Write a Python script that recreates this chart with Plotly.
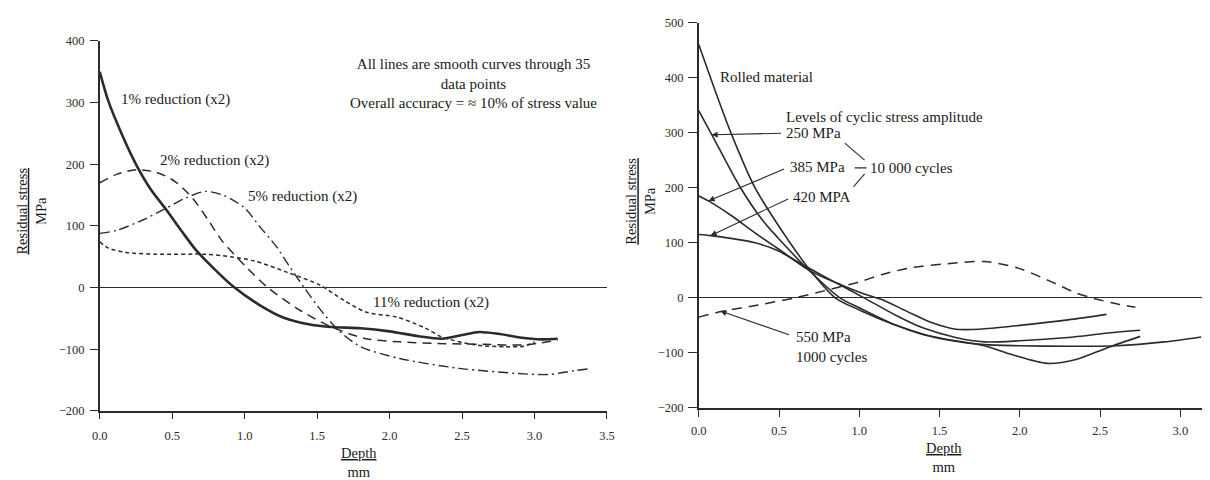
import plotly.graph_objects as go

# ---------------- left panel: cold-rolled reduction levels ----------------
depth_1pct = [0, 0.06, 0.15, 0.25, 0.35, 0.46, 0.57, 0.66, 0.8, 0.93, 1.1, 1.27,
              1.45, 1.6, 1.8, 2.0, 2.2, 2.36, 2.5, 2.62, 2.75, 2.9, 3.05, 3.16]
stress_1pct = [350, 302, 250, 200, 160, 126, 90, 62, 28, 0, -28, -49,
               -60, -64, -66, -71, -79, -83, -77, -72, -75, -81, -84, -83]

depth_2pct = [0, 0.12, 0.25, 0.39, 0.52, 0.64, 0.75, 0.84, 1.0, 1.16, 1.39, 1.61,
              1.84, 2.07, 2.38, 2.65, 2.93, 3.16]
stress_2pct = [170, 184, 191, 187, 172, 145, 109, 77, 36, 0, -38, -65,
               -83, -88, -91, -92, -93, -85]

depth_5pct = [0, 0.12, 0.3, 0.46, 0.6, 0.73, 0.86, 1.0, 1.1, 1.22, 1.31, 1.41, 1.54,
              1.65, 1.8, 2.07, 2.48, 2.93, 3.1, 3.27, 3.37]
stress_5pct = [88, 93, 110, 129, 146, 156, 149, 129, 100, 66, 34, 0, -41,
               -70, -96, -115, -131, -140, -141, -135, -132]

depth_11pct = [0, 0.06, 0.18, 0.39, 0.73, 0.9, 1.07, 1.29, 1.52, 1.68, 1.84, 2.05,
               2.24, 2.36, 2.59, 2.8, 2.93, 3.0]
stress_11pct = [74, 64, 57, 54, 54, 50, 43, 25, 4, -20, -40, -48,
                -65, -80, -93, -96, -95, -88]

# ---------------- right panel: cyclic loading ----------------
depth_rolled = [0, 0.1, 0.2, 0.35, 0.49, 0.55, 0.68, 0.85, 1.0, 1.23, 1.4, 1.6, 1.78,
                2.0, 2.3, 2.6, 2.9, 3.13]
stress_rolled = [460, 378, 300, 200, 134, 108, 55, 0, -22, -50, -66, -78, -85,
                 -87, -88, -87, -80, -71]

depth_250 = [0, 0.08, 0.26, 0.4, 0.49, 0.68, 0.88, 1.0, 1.23, 1.4, 1.6, 1.78, 1.95,
             2.17, 2.35, 2.55, 2.75]
stress_250 = [340, 297, 200, 140, 110, 52, 0, -18, -50, -67, -79, -87, -103,
              -119, -112, -90, -70]

depth_385 = [0, 0.06, 0.2, 0.35, 0.49, 0.7, 0.9, 1.05, 1.14, 1.3, 1.45, 1.6, 1.75,
             2.0, 2.3, 2.54]
stress_385 = [185, 176, 150, 118, 90, 48, 22, 5, -3, -25, -45, -57, -57,
              -50, -40, -30]

depth_420 = [0, 0.074, 0.2, 0.35, 0.49, 0.68, 0.85, 1.03, 1.23, 1.4, 1.6, 1.78,
             2.0, 2.3, 2.55, 2.75]
stress_420 = [115, 113, 108, 100, 86, 55, 28, 0, -32, -55, -72, -80,
              -78, -72, -64, -59]

depth_550 = [0, 0.14, 0.37, 0.6, 0.8, 1.0, 1.15, 1.31, 1.55, 1.78, 1.99, 2.19,
             2.35, 2.46, 2.62, 2.72]
stress_550 = [-35, -25, -13, 0, 14, 29, 43, 54, 62, 66, 54, 30,
              9, -1, -12, -17]

left_xticks = [0, 0.5, 1.0, 1.5, 2.0, 2.5, 3.0, 3.5]
left_yticks = [-200, -100, 0, 100, 200, 300, 400]
right_xticks = [0, 0.5, 1.0, 1.5, 2.0, 2.5, 3.0]
right_yticks = [-200, -100, 0, 100, 200, 300, 400, 500]

INK = "#2b2b2b"
SERIF = "Liberation Serif"

fig = go.Figure()


def curve(x, y, axis, dash="solid", width=1.5):
    xa, ya = axis
    fig.add_trace(go.Scatter(
        x=x, y=y, xaxis=xa, yaxis=ya, mode="lines", showlegend=False,
        hoverinfo="skip",
        line=dict(color=INK, width=width, dash=dash, shape="spline", smoothing=0.8),
    ))


L = ("x", "y")
R = ("x2", "y2")
curve(depth_1pct, stress_1pct, L, "solid", 2.6)
curve(depth_2pct, stress_2pct, L, "9px,6px", 1.5)
curve(depth_5pct, stress_5pct, L, "10px,4px,2px,4px", 1.4)
curve(depth_11pct, stress_11pct, L, "4px,3px", 1.5)

curve(depth_rolled, stress_rolled, R, "solid", 1.6)
curve(depth_250, stress_250, R, "solid", 1.6)
curve(depth_385, stress_385, R, "solid", 1.6)
curve(depth_420, stress_420, R, "solid", 1.6)
curve(depth_550, stress_550, R, "10px,7px", 1.5)


def fmt(v):
    return f"{v:.1f}"


axis_common = dict(
    showgrid=False, showline=True, linecolor=INK, linewidth=1.6,
    ticks="outside", tickcolor=INK, tickwidth=1.4,
    tickfont=dict(family=SERIF, size=12.5, color=INK),
    fixedrange=True,
)

fig.update_layout(
    width=1210, height=480,
    margin=dict(l=0, r=0, t=0, b=0),
    paper_bgcolor="white", plot_bgcolor="white",
    xaxis=dict(axis_common, domain=[93 / 1210, 607 / 1210], range=[0, 3.5],
               tickvals=left_xticks, ticktext=[fmt(v) for v in left_xticks],
               ticklen=6, ticklabelstandoff=6, anchor="y", zeroline=False),
    yaxis=dict(axis_common, domain=[64 / 480, 445 / 480], range=[-200, 400],
               tickvals=left_yticks, ticklen=8, ticklabelstandoff=3, anchor="x",
               zeroline=True, zerolinecolor=INK, zerolinewidth=1.4),
    xaxis2=dict(axis_common, domain=[700 / 1210, 1.0], range=[0, 3.135],
                tickvals=right_xticks, ticktext=[fmt(v) for v in right_xticks],
                ticklen=7, ticklabelstandoff=3, anchor="y2", zeroline=False),
    yaxis2=dict(axis_common, domain=[67 / 480, 464 / 480], range=[-200, 500],
                tickvals=right_yticks, ticklen=9, ticklabelstandoff=2, anchor="x2",
                zeroline=True, zerolinecolor=INK, zerolinewidth=1.3),
)

TXT = dict(family=SERIF, size=15, color="#1a1a1a")


def label(text, x, y, axis, xanchor="left", align="left"):
    fig.add_annotation(text=text, x=x, y=y, xref=axis[0], yref=axis[1],
                       xanchor=xanchor, yanchor="middle", align=align,
                       showarrow=False, font=TXT)


# left panel labels
label("1% reduction (x2)", 0.13, 305, L)
label("2% reduction (x2)", 0.40, 206, L)
label("5% reduction (x2)", 1.01, 148, L)
label("11% reduction (x2)", 1.87, -25, L)
label("All lines are smooth curves through 35<br>data points<br>"
      "Overall accuracy = \u2248 10% of stress value", 2.58, 331, L,
      xanchor="center", align="center")

# right panel labels
label("Rolled material", 0.123, 401, R)
label("Levels of cyclic stress amplitude", 0.529, 329, R)
label("250 MPa", 0.529, 299, R)
label("385 MPa", 0.553, 237, R)
label("420 MPA", 0.572, 184, R)
label("10 000 cycles", 1.057, 236, R)
label("550 MPa<br>1000 cycles", 0.596, -89, R)


def pointer(head, tail):
    fig.add_annotation(text="", x=head[0], y=head[1], ax=tail[0], ay=tail[1],
                       xref="x2", yref="y2", axref="x2", ayref="y2",
                       showarrow=True, arrowhead=2, arrowsize=1.1,
                       arrowwidth=1.1, arrowcolor=INK)


pointer((0.08, 296), (0.522, 299))
pointer((0.061, 176), (0.541, 235))
pointer((0.074, 113), (0.566, 181))
pointer((0.135, -24), (0.572, -68))

# bracket tying the three 10 000-cycle levels together
for x0, y0, x1, y1 in [(0.91, 281, 1.033, 250), (0.965, 202, 1.033, 225),
                       (0.971, 236, 1.045, 236)]:
    fig.add_shape(type="line", x0=x0, y0=y0, x1=x1, y1=y1, xref="x2", yref="y2",
                  line=dict(color=INK, width=1.1))

# axis titles
TITLE = dict(family=SERIF, size=14.5, color="#1a1a1a")
U = "<span style='text-decoration:underline'>{}</span>"
for xc, yc in [(24 / 1210, 1 - 210 / 480), (641 / 1210, 1 - 200 / 480)]:
    fig.add_annotation(text=U.format("Residual stress") + "<br>MPa",
                       x=xc, y=yc, xref="paper", yref="paper",
                       textangle=-90, showarrow=False, font=TITLE,
                       xanchor="center", yanchor="middle", align="center")
for xc, yc in [(356 / 1210, 1 - 469 / 480), (949 / 1210, 1 - 464 / 480)]:
    fig.add_annotation(text=U.format("Depth") + "<br>mm",
                       x=xc, y=yc, xref="paper", yref="paper",
                       showarrow=False, font=TITLE,
                       xanchor="center", yanchor="middle", align="center")

fig.write_html("out.html")
